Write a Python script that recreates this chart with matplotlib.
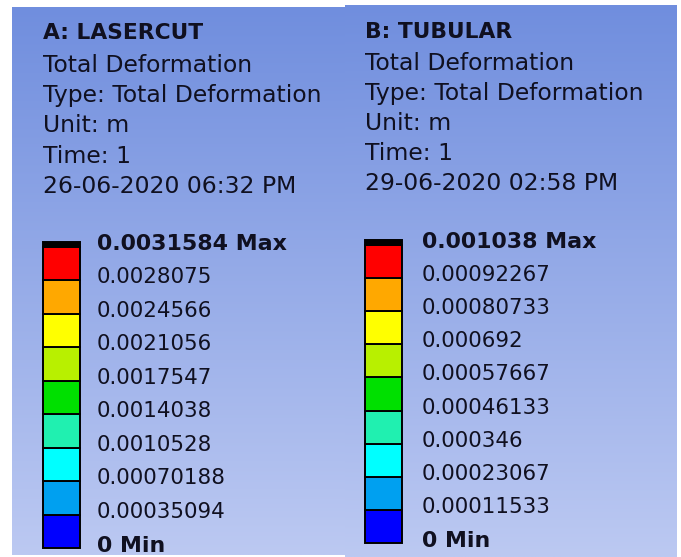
import numpy as np
import matplotlib
matplotlib.use("Agg")
import matplotlib.pyplot as plt
from matplotlib.colors import LinearSegmentedColormap

# ---------------- data ----------------
titles = ["A: LASERCUT", "B: TUBULAR"]
info_lines = [
    ["Total Deformation", "Type: Total Deformation", "Unit: m", "Time: 1", "26-06-2020 06:32 PM"],
    ["Total Deformation", "Type: Total Deformation", "Unit: m", "Time: 1", "29-06-2020 02:58 PM"],
]
levels_a = [0, 0.00035094, 0.00070188, 0.0010528, 0.0014038, 0.0017547,
            0.0021056, 0.0024566, 0.0028075, 0.0031584]
labels_a = ["0 Min", "0.00035094", "0.00070188", "0.0010528", "0.0014038", "0.0017547",
            "0.0021056", "0.0024566", "0.0028075", "0.0031584 Max"]
levels_b = [0, 0.00011533, 0.00023067, 0.000346, 0.00046133, 0.00057667,
            0.000692, 0.00080733, 0.00092267, 0.001038]
labels_b = ["0 Min", "0.00011533", "0.00023067", "0.000346", "0.00046133", "0.00057667",
            "0.000692", "0.00080733", "0.00092267", "0.001038 Max"]
band_colors = ["#0000FF", "#00A0F0", "#00FFFF", "#20F0B0", "#00E000",
               "#B8F000", "#FFFF00", "#FFA800", "#FF0000"]

# ---------------- figure ----------------
W, H = 681, 557
fig = plt.figure(figsize=(W / 100, H / 100), dpi=100)
fig.patch.set_facecolor("white")

def px_axes(x0, y0, x1, y1):
    """axes from pixel box (top-left origin)"""
    return fig.add_axes([x0 / W, 1 - y1 / H, (x1 - x0) / W, (y1 - y0) / H])

grad = LinearSegmentedColormap.from_list("bg", ["#708ede", "#bcc9f2"])
gvals = np.linspace(0, 1, 256).reshape(-1, 1)

panels = [
    dict(box=(12, 7, 345, 555), bar=(43, 80), bar_y=(247, 548), cap=5, lab_x=97,
         text_x=43, text_y0=33, first_gap=32, gap=30.4,
         levels=levels_a, labels=labels_a),
    dict(box=(345, 5, 677, 557), bar=(365, 402), bar_y=(245, 543), cap=5, lab_x=422,
         text_x=365, text_y0=32, first_gap=31, gap=30.2,
         levels=levels_b, labels=labels_b),
]

FONT = "DejaVu Sans"
fs_title = 15.7
fs_info = 16.9
fs_num = 15.4
fs_bold = 15.9
txt_color = "#101020"

for i, p in enumerate(panels):
    x0, y0, x1, y1 = p["box"]
    bg = px_axes(x0, y0, x1, y1)
    bg.imshow(gvals, cmap=grad, aspect="auto", extent=(0, 1, 1, 0))
    bg.set_xlim(0, 1)
    bg.set_ylim(1, 0)
    bg.axis("off")
    # header texts
    pw, ph = x1 - x0, y1 - y0
    tx = (p["text_x"] - x0) / pw
    bg.text(tx, (p["text_y0"] - y0) / ph, titles[i], fontsize=fs_title, fontweight="bold",
            family=FONT, va="center", ha="left", color=txt_color)
    for k, line in enumerate(info_lines[i]):
        yy = p["text_y0"] + p["first_gap"] + k * p["gap"]
        bg.text(tx, (yy - y0) / ph, line, fontsize=fs_info, family=FONT,
                va="center", ha="left", color=txt_color)

    # colorbar
    bx0, bx1 = p["bar"]
    by0, by1 = p["bar_y"]
    ax = px_axes(bx0, by0, bx1, by1)
    lv = np.array(p["levels"])
    ax.set_ylim(lv[0], lv[-1])
    ax.set_xlim(0, 1)
    ax.bar(np.full(len(lv) - 1, 0.5), np.diff(lv), bottom=lv[:-1], width=1.0,
           color=band_colors, edgecolor="black", linewidth=1.4, clip_on=False)
    cap_h = (lv[-1] - lv[0]) * p["cap"] / (by1 - by0)
    ax.bar([0.5], [cap_h], bottom=[lv[-1]], width=1.0, color="black",
           edgecolor="black", linewidth=1.4, clip_on=False)
    ax.axis("off")
    trans = ax.get_yaxis_transform()
    lx = (p["lab_x"] - bx0) / (bx1 - bx0)
    shift = (lv[-1] - lv[0]) * 3 / (by1 - by0)
    for j, (v, lab) in enumerate(zip(lv, p["labels"])):
        bold = j == 0 or j == len(lv) - 1
        yv = v + shift
        if j == 0:
            yv = v + shift * 0.8
        ax.text(lx, yv, lab, transform=trans, fontsize=fs_bold if bold else fs_num,
                fontweight="bold" if bold else "normal", family=FONT,
                va="center", ha="left", color=txt_color, clip_on=False)

fig.savefig("out.png", dpi=100, facecolor="white")
